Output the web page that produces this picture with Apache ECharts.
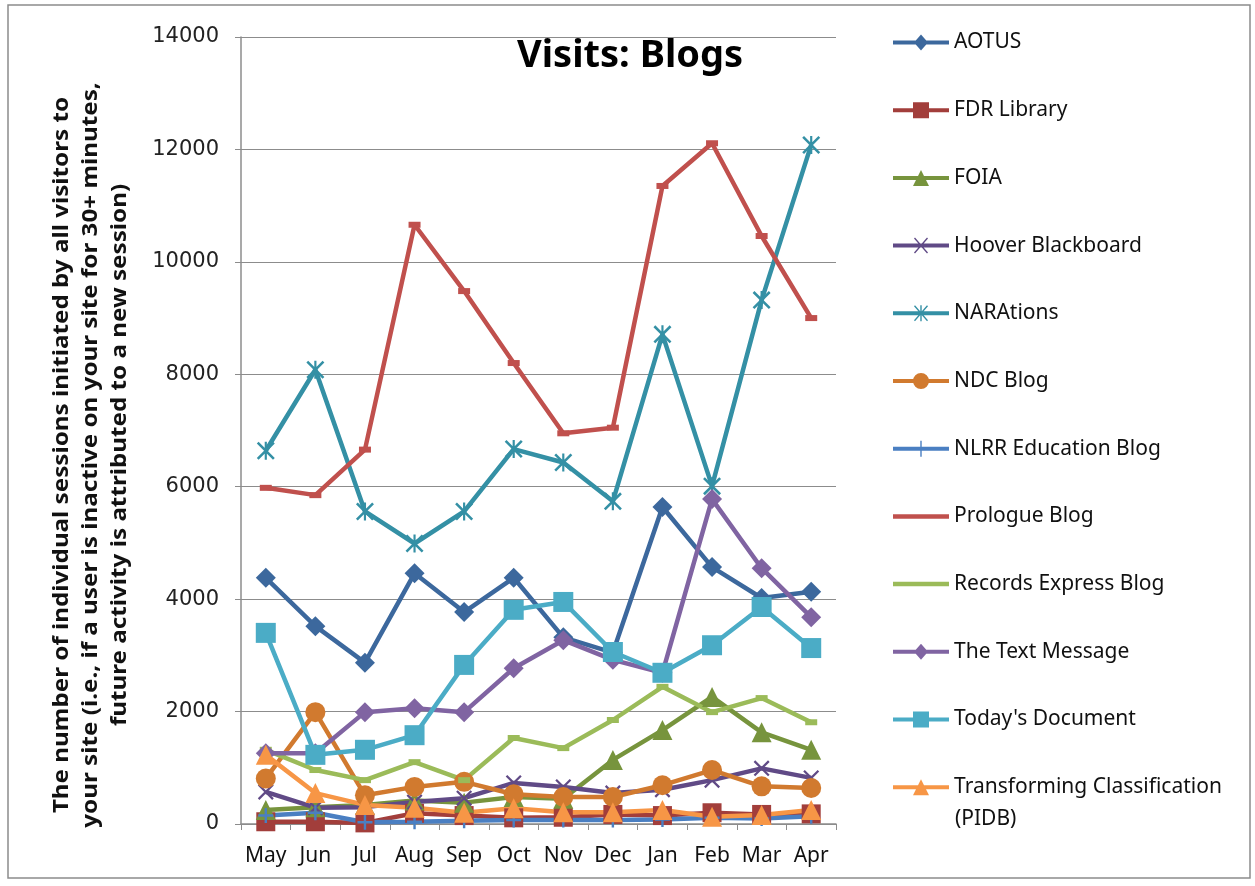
<!DOCTYPE html>
<html>
<head>
<meta charset="utf-8">
<style>
  html, body { margin: 0; padding: 0; background: #fff; }
  #main { width: 1255px; height: 886px; }
</style>
<script src="https://cdn.jsdelivr.net/npm/echarts@6/dist/echarts.min.js"></script>
</head>
<body>
<div id="main"></div>
<script>
var months = ['May', 'Jun', 'Jul', 'Aug', 'Sep', 'Oct', 'Nov', 'Dec', 'Jan', 'Feb', 'Mar', 'Apr'];

var aotus = [4380, 3520, 2870, 4460, 3770, 4380, 3320, 3050, 5640, 4570, 4020, 4130];
var fdrLibrary = [40, 40, 20, 190, 150, 110, 120, 170, 150, 200, 170, 180];
var foia = [250, 300, 340, 420, 380, 480, 450, 1140, 1670, 2260, 1630, 1320];
var hoover = [570, 290, 300, 390, 460, 730, 660, 550, 610, 780, 990, 820];
var narations = [6640, 8080, 5560, 4990, 5560, 6670, 6430, 5740, 8710, 6010, 9320, 12080];
var ndcBlog = [810, 1990, 510, 660, 750, 530, 480, 480, 690, 960, 670, 640];
var nlrr = [150, 200, 30, 40, 60, 70, 70, 70, 80, 110, 100, 140];
var prologue = [5980, 5850, 6660, 10660, 9480, 8200, 6950, 7050, 11350, 12110, 10460, 9000];
var recordsExpress = [1320, 960, 780, 1100, 780, 1530, 1350, 1850, 2440, 1990, 2240, 1810];
var textMessage = [1260, 1260, 1990, 2060, 1990, 2770, 3270, 2920, 2690, 5780, 4550, 3680];
var todaysDoc = [3400, 1230, 1320, 1580, 2830, 3810, 3950, 3060, 2690, 3180, 3860, 3130];
var transforming = [1230, 550, 340, 290, 200, 280, 210, 210, 250, 130, 160, 250];

var yTicks = [0, 2000, 4000, 6000, 8000, 10000, 12000, 14000];

// marker shapes drawn as filled outlines
var xMark = 'path://M0,1L1,0L10,9L9,10ZM9,0L10,1L1,10L0,9Z';
var starMark = 'path://M0,1L1,0L10,9L9,10ZM9,0L10,1L1,10L0,9ZM4.4,0L5.6,0L5.6,10L4.4,10Z';
var plusMark = 'path://M4.2,0L5.8,0L5.8,10L4.2,10ZM0,4.2L10,4.2L10,5.8L0,5.8Z';

// legend icons: thick line with the marker in the middle, 56 x 16 box
var bar = 'M0,6L56,6L56,10L0,10Z';
var iconDiamond = 'path://' + bar + 'M28,0L35,8L28,16L21,8Z';
var iconSquare = 'path://' + bar + 'M20,0L36,0L36,16L20,16Z';
var iconTriangle = 'path://' + bar + 'M28,0L36,16L20,16Z';
var iconCircle = 'path://' + bar + 'M20,8A8,8 0 1 1 36,8A8,8 0 1 1 20,8Z';
var iconX = 'path://' + bar + 'M21,1L22,0L35,15L34,16ZM34,0L35,1L22,16L21,15Z';
var iconStar = 'path://' + bar + 'M21,1L22,0L35,15L34,16ZM34,0L35,1L22,16L21,15ZM27.3,0L28.7,0L28.7,16L27.3,16Z';
var iconPlus = 'path://' + bar + 'M27.3,0L28.7,0L28.7,16L27.3,16Z';
var iconBar = 'path://M0,0L56,0L56,4.5L0,4.5Z';

var seriesDefs = [
  { name: 'AOTUS', data: aotus, color: '#3C689D', symbol: 'diamond', size: 20, icon: iconDiamond },
  { name: 'FDR Library', data: fdrLibrary, color: '#A23E3B', symbol: 'rect', size: 19, icon: iconSquare },
  { name: 'FOIA', data: foia, color: '#77943D', symbol: 'triangle', size: 20, icon: iconTriangle },
  { name: 'Hoover Blackboard', data: hoover, color: '#604A86', symbol: xMark, size: 16, icon: iconX },
  { name: 'NARAtions', data: narations, color: '#3490A5', symbol: starMark, size: 18, icon: iconStar },
  { name: 'NDC Blog', data: ndcBlog, color: '#D17A2F', symbol: 'circle', size: 20, icon: iconCircle },
  { name: 'NLRR Education Blog', data: nlrr, color: '#4A7FC2', symbol: plusMark, size: 15, icon: iconPlus },
  { name: 'Prologue Blog', data: prologue, color: '#C0504D', symbol: 'rect', size: [12, 6], icon: iconBar, flat: true },
  { name: 'Records Express Blog', data: recordsExpress, color: '#9BBB59', symbol: 'rect', size: [12, 6], icon: iconBar, flat: true },
  { name: 'The Text Message', data: textMessage, color: '#8064A2', symbol: 'diamond', size: 20, icon: iconDiamond },
  { name: "Today's Document", data: todaysDoc, color: '#4BACC6', symbol: 'rect', size: 20, icon: iconSquare },
  { name: 'Transforming Classification (PIDB)', data: transforming, color: '#F79646', symbol: 'triangle', size: 20, icon: iconTriangle }
];

var chart = echarts.init(document.getElementById('main'), null, { renderer: 'canvas' });

var series = seriesDefs.map(function (s) {
  return {
    name: s.name,
    type: 'line',
    data: s.data,
    symbol: s.symbol,
    symbolSize: s.size,
    showSymbol: true,
    animation: false,
    itemStyle: { color: s.color },
    lineStyle: { color: s.color, width: 4.5 },
    emphasis: { disabled: true }
  };
});

// one legend block per entry so they can be spaced like the original
var legends = seriesDefs.map(function (s, i) {
  return {
    data: [{ name: s.name, icon: s.icon }],
    left: 888,
    top: 27 + i * 67.7,
    itemWidth: 56,
    itemHeight: s.flat ? 4.5 : 16,
    itemGap: 6,
    selectedMode: false,
    formatter: function (name) {
      // second line "(PIDB)" is placed below as its own text
      return name === 'Transforming Classification (PIDB)' ? 'Transforming Classification' : name;
    },
    textStyle: { fontFamily: 'Noto Sans', fontSize: 21, color: '#111' }
  };
});

var option = {
  backgroundColor: '#fff',
  animation: false,
  title: {
    text: 'Visits: Blogs',
    left: 512,
    top: 32,
    textStyle: { fontFamily: 'Noto Sans', fontWeight: 'bold', fontSize: 38, color: '#000' }
  },
  legend: legends,
  grid: { left: 241, right: 419, top: 37, bottom: 62, containLabel: false },
  xAxis: {
    type: 'category',
    data: months,
    boundaryGap: true,
    axisLine: { lineStyle: { color: '#8c8c8c', width: 1.5 } },
    axisTick: { show: true, length: 6, lineStyle: { color: '#8c8c8c' } },
    axisLabel: { fontFamily: 'Noto Sans', fontSize: 21, color: '#111', margin: 22, interval: 0 }
  },
  yAxis: {
    type: 'value',
    min: yTicks[0],
    max: yTicks[yTicks.length - 1],
    interval: 2000,
    axisLine: { show: true, lineStyle: { color: '#8c8c8c', width: 1.5 } },
    axisTick: { show: true, length: 6, lineStyle: { color: '#8c8c8c' } },
    axisLabel: {
      fontFamily: 'DejaVu Sans', fontSize: 21, color: '#222', margin: 22,
      formatter: function (v) { return String(v); }
    },
    splitLine: { show: true, lineStyle: { color: '#8c8c8c', width: 1.2 } }
  },
  graphic: [
    {
      type: 'rect',
      shape: { x: 8, y: 5, width: 1242, height: 873 },
      style: { fill: 'none', stroke: '#8c8c8c', lineWidth: 1.5 },
      silent: true
    },
    {
      type: 'text',
      x: 955,
      y: 819,
      style: {
        text: '(PIDB)',
        fontFamily: 'Noto Sans',
        fontSize: 21,
        verticalAlign: 'middle',
        fill: '#111'
      },
      silent: true
    },
    {
      type: 'text',
      x: 91,
      y: 455,
      rotation: Math.PI / 2,
      scaleX: 1.1,
      style: {
        text: 'The number of individual sessions initiated by all visitors to\nyour site (i.e., if a user is inactive on your site for 30+ minutes,\nfuture activity is attributed to a new session)',
        fontFamily: 'Noto Sans',
        fontWeight: 'bold',
        fontSize: 22,
        lineHeight: 29,
        align: 'center',
        verticalAlign: 'middle',
        fill: '#111'
      },
      silent: true
    }
  ],
  series: series
};

chart.setOption(option);
window.addEventListener('resize', chart.resize);
</script>
</body>
</html>
